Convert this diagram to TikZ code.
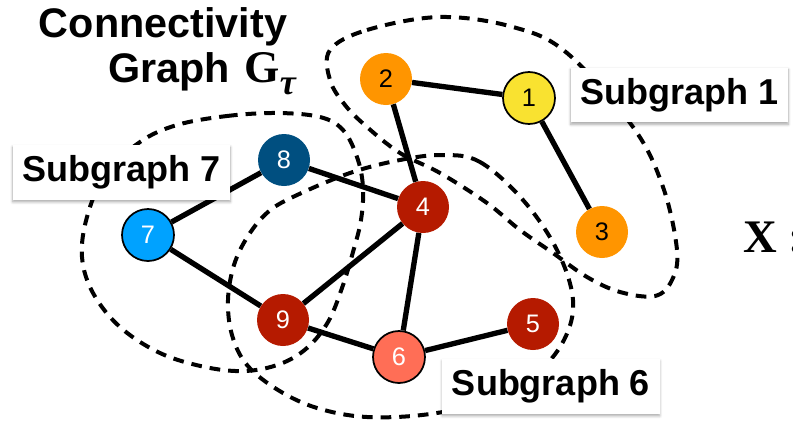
\documentclass[tikz,border=0pt]{standalone}
\usepackage{fontspec}
\setmainfont{Liberation Sans}
\newfontfamily\serifface{Liberation Serif}
\usetikzlibrary{shadows.blur}

\definecolor{cyellow}{HTML}{F9E230}
\definecolor{corange}{HTML}{FF9500}
\definecolor{cdarkred}{HTML}{B51A00}
\definecolor{csalmon}{HTML}{FF6E56}
\definecolor{clightblue}{HTML}{00A2FF}
\definecolor{cdarkblue}{HTML}{004F80}

\tikzset{
  vertex/.style={circle, minimum size=39pt, inner sep=0pt,
    font=\fontsize{19}{20}\selectfont},
  lightv/.style={vertex, text=black},
  darkv/.style={vertex, text=white},
  rimmed/.style={draw=black, line width=1.3pt},
  edge/.style={line width=4pt},
  group/.style={line width=3pt, dash pattern=on 8pt off 6pt, line cap=butt},
  tag/.style={fill=white, minimum width=163pt, minimum height=41pt, inner sep=0pt,
    font=\fontsize{27}{30}\selectfont\bfseries,
    blur shadow={shadow xshift=0pt, shadow yshift=-1.5pt, shadow blur steps=6, shadow opacity=35}},
  heading/.style={font=\fontsize{31}{34}\selectfont\bfseries, inner sep=0pt}
}

\begin{document}
\begin{tikzpicture}[x=0.75pt, y=-0.75pt]
\useasboundingbox (0,0) rectangle (793,422);

% subgraph outlines
\draw[group] plot[smooth cycle, tension=0.6] coordinates {
  (330,50) (367,30) (440,17) (513,27) (567,53) (633,127) (663,187)
  (677,250) (672,280) (655,296) (620,292) (587,277) (553,253) (520,230)
  (487,203) (440,173) (400,153) (367,127) (345,105) (330,80)};
\draw[group] plot[smooth cycle, tension=0.6] coordinates {
  (177,125) (227,116) (277,113) (320,117) (343,130) (357,157) (363,187)
  (361,220) (353,252) (342,288) (328,322) (307,348) (280,364) (245,371)
  (205,367) (160,353) (120,327) (93,293) (82,257) (87,217) (105,175) (140,142)};
\draw[group] plot[smooth cycle, tension=0.6] coordinates {
  (443,155) (480,162) (523,200) (557,250) (573,300) (564,340) (535,375)
  (490,400) (430,414) (367,417) (317,408) (278,390) (247,365) (232,335)
  (228,300) (234,265) (248,236) (268,212) (295,196) (350,173) (400,160)};

% vertices
\node[lightv, rimmed, fill=cyellow] (n1) at (529,98) {1};
\node[lightv, fill=corange] (n2) at (386,79) {2};
\node[lightv, fill=corange] (n3) at (602,232) {3};
\node[darkv, fill=cdarkred] (n4) at (423,207) {4};
\node[darkv, fill=cdarkred] (n5) at (533,324) {5};
\node[darkv, rimmed, fill=csalmon] (n6) at (399,357) {6};
\node[darkv, rimmed, fill=clightblue] (n7) at (148,235) {7};
\node[darkv, fill=cdarkblue] (n8) at (284,160) {8};
\node[darkv, fill=cdarkred] (n9) at (283,320) {9};

% edges
\draw[edge] (n2) -- (n1);
\draw[edge] (n1) -- (n3);
\draw[edge] (n2) -- (n4);
\draw[edge] (n8) -- (n4);
\draw[edge] (n8) -- (n7);
\draw[edge] (n7) -- (n9);
\draw[edge] (n9) -- (n4);
\draw[edge] (n4) -- (n6);
\draw[edge] (n9) -- (n6);
\draw[edge] (n6) -- (n5);

% subgraph tags
\node[tag] (t1) at (679.5,95) {Subgraph 1};
\node[tag] (t7) at (121.5,172.5) {Subgraph 7};
\node[tag] (t6) at (551,386.5) {Subgraph 6};

% title
\node[heading, anchor=base] (title1) at (163,37) {Connectivity};
\node[heading, anchor=base west] (title2) at (108,82)
  {Graph\hspace{11pt}{\serifface\bfseries\fontsize{34}{36}\selectfont G}\raisebox{-9pt}{\serifface\itshape\fontsize{27}{28}\selectfont τ}};

% feature matrix symbol
\node[anchor=base west, inner sep=0pt, font=\serifface\bfseries\fontsize{35}{38}\selectfont] (xsym) at (743,252) {X :};
\end{tikzpicture}
\end{document}
